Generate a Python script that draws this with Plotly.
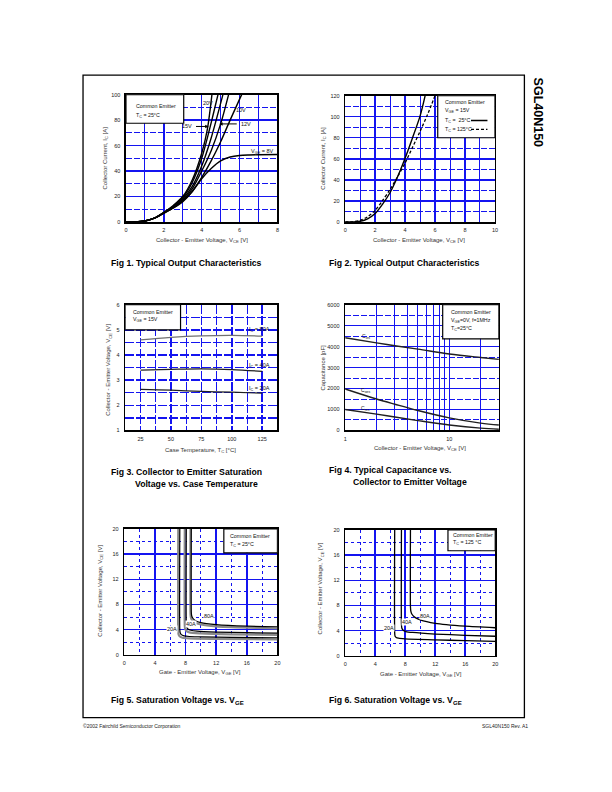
import math
import plotly.graph_objects as go

W, H = 612, 792
BLUE = "#1414f0"
FONT = "Liberation Sans, Arial, sans-serif"
BOLD = "Liberation Sans Narrow, Arial Narrow, Liberation Sans, Arial, sans-serif"

# ---------------- Fig 1 data ----------------
f1_vge_labels = ["20V", "15V", "", "12V", "10V", "8V"]
f1_x = [
    [0, 0.5, 1, 1.5, 2, 2.5, 3, 3.5, 4, 4.3, 4.54],
    [0, 0.5, 1, 1.5, 2, 2.5, 3, 3.5, 4, 4.4, 4.6, 4.86],
    [0, 0.5, 1, 1.5, 2, 2.5, 3, 3.5, 4, 4.5, 5.12],
    [0, 0.5, 1, 1.5, 2, 2.5, 3, 3.5, 4, 4.5, 5, 5.42],
    [0, 0.5, 1, 1.5, 2, 2.5, 3, 3.5, 4, 4.5, 5, 5.5, 6.11],
    [0, 0.5, 1, 1.5, 2, 2.5, 3, 3.5, 4, 4.5, 5, 5.5, 6, 6.5, 7, 8],
]
f1_y = [
    [0, 0, 0.8, 3, 7.5, 13, 20, 33, 54, 73, 100],
    [0, 0, 0.8, 3, 7.5, 12.5, 19, 31, 50, 72, 84, 100],
    [0, 0, 0.8, 3, 7.5, 12, 18, 28, 44, 66, 100],
    [0, 0, 0.8, 3, 7.2, 11.5, 17, 26, 40, 56, 77, 100],
    [0, 0, 0.8, 3, 7, 11, 16, 24, 35, 48, 63, 80, 100],
    [0, 0, 0.8, 3, 6.8, 11, 16.5, 24, 34, 42, 48, 51, 52.2, 52.6, 52.8, 53],
]

# ---------------- Fig 2 data ----------------
f2_x25 = [0, 0.5, 1, 1.5, 2, 2.5, 3, 3.5, 4, 4.5, 5, 5.34]
f2_y25 = [0, 0, 0.7, 3, 8, 17, 28, 43, 60.5, 80, 100.5, 120]
f2_x125 = [0, 0.5, 1, 1.5, 2, 2.5, 3, 3.5, 4, 4.5, 5, 5.5, 6.0]
f2_y125 = [0, 0.2, 1.5, 5, 11, 20.5, 31, 43, 56, 71, 86, 102, 120]

# ---------------- Fig 3 data ----------------
f3_tc = [25, 50, 75, 100, 125]
f3_80a = [4.6, 4.7, 4.76, 4.78, 4.75]
f3_40a = [3.4, 3.43, 3.45, 3.42, 3.35]
f3_20a = [2.63, 2.6, 2.55, 2.52, 2.48]

# ---------------- Fig 4 data ----------------
f4_v = [1, 2, 3, 5, 10, 20, 30]
f4_cies = [4420, 4180, 4040, 3880, 3650, 3480, 3390]
f4_coes = [1980, 1500, 1250, 950, 600, 350, 260]
f4_cres = [1000, 780, 640, 470, 260, 110, 60]

# ---------------- Fig 5 data (Tc = 25C) ----------------
f5_80a_x = [8.75, 8.75, 8.8, 8.95, 9.3, 10, 12, 16, 20]
f5_80a_y = [20, 6.8, 6.2, 5.8, 5.4, 5.1, 4.8, 4.55, 4.45]
f5_80g_x = [8.65, 8.65, 8.7, 8.85, 9.2, 10, 12, 16, 20]
f5_80g_y = [20, 6.5, 5.9, 5.5, 5.1, 4.8, 4.5, 4.3, 4.2]
f5_40a_x = [8.1, 8.1, 8.15, 8.3, 8.7, 9.5, 12, 16, 20]
f5_40a_y = [20, 4.9, 4.4, 4.1, 3.9, 3.75, 3.6, 3.5, 3.45]
f5_40g_x = [7.9, 7.9, 7.95, 8.1, 8.5, 10, 14, 20]
f5_40g_y = [20, 4.6, 4.1, 3.8, 3.55, 3.4, 3.25, 3.15]
f5_20a_x = [7.25, 7.25, 7.3, 7.45, 7.8, 8.5, 10, 14, 20]
f5_20a_y = [20, 4.0, 3.5, 3.2, 3.0, 2.9, 2.85, 2.75, 2.7]
f5_20g_x = [7.05, 7.05, 7.1, 7.25, 7.6, 8.5, 12, 20]
f5_20g_y = [20, 3.7, 3.2, 2.9, 2.7, 2.6, 2.52, 2.45]

# ---------------- Fig 6 data (Tc = 125C) ----------------
f6_80a_x = [8.7, 8.7, 8.75, 8.9, 9.3, 10, 12, 16, 20]
f6_80a_y = [20, 7.8, 7.1, 6.6, 6.1, 5.7, 5.15, 4.7, 4.45]
f6_40a_x = [7.5, 7.5, 7.55, 7.7, 8.1, 9, 12, 16, 20]
f6_40a_y = [20, 5.0, 4.4, 4.1, 3.85, 3.7, 3.45, 3.25, 3.1]
f6_20a_x = [6.6, 6.6, 6.65, 6.8, 7.1, 8, 12, 16, 20]
f6_20a_y = [20, 3.6, 3.1, 2.9, 2.78, 2.68, 2.52, 2.4, 2.28]


def pxx(x):
    return x / W


def pxy(y):
    return 1 - y / H


fig = go.Figure()

# ----- traces -----
for xs, ys in zip(f1_x, f1_y):
    fig.add_trace(go.Scatter(x=xs, y=ys, mode="lines", line=dict(color="black", width=1.4, shape="spline", smoothing=0.8),
                             xaxis="x", yaxis="y", showlegend=False, hoverinfo="skip"))

fig.add_trace(go.Scatter(x=f2_x25, y=f2_y25, mode="lines", line=dict(color="black", width=1.4, shape="spline", smoothing=0.8),
                         xaxis="x2", yaxis="y2", showlegend=False))
fig.add_trace(go.Scatter(x=f2_x125, y=f2_y125, mode="lines", line=dict(color="black", width=1.3, dash="3px,2px", shape="spline", smoothing=0.8),
                         xaxis="x2", yaxis="y2", showlegend=False))

for ys, col in [(f3_80a, "#707070"), (f3_40a, "#202020"), (f3_20a, "#202020")]:
    fig.add_trace(go.Scatter(x=f3_tc, y=ys, mode="lines", line=dict(color=col, width=1.2, shape="spline"),
                             xaxis="x3", yaxis="y3", showlegend=False))

for ys in [f4_cies, f4_coes, f4_cres]:
    fig.add_trace(go.Scatter(x=f4_v, y=ys, mode="lines", line=dict(color="#202020", width=1.4, shape="spline"),
                             xaxis="x4", yaxis="y4", showlegend=False))

for xs, ys in [(f5_80g_x, f5_80g_y), (f5_40g_x, f5_40g_y), (f5_20g_x, f5_20g_y)]:
    fig.add_trace(go.Scatter(x=xs, y=ys, mode="lines", line=dict(color="#8a8a8a", width=2.2, shape="spline", smoothing=0.6),
                             xaxis="x5", yaxis="y5", showlegend=False))
for xs, ys in [(f5_80a_x, f5_80a_y), (f5_40a_x, f5_40a_y), (f5_20a_x, f5_20a_y)]:
    fig.add_trace(go.Scatter(x=xs, y=ys, mode="lines", line=dict(color="black", width=1.2, shape="spline", smoothing=0.6),
                             xaxis="x5", yaxis="y5", showlegend=False))

for xs, ys in [(f6_80a_x, f6_80a_y), (f6_40a_x, f6_40a_y), (f6_20a_x, f6_20a_y)]:
    fig.add_trace(go.Scatter(x=xs, y=ys, mode="lines", line=dict(color="black", width=1.3, shape="spline", smoothing=0.6),
                             xaxis="x6", yaxis="y6", showlegend=False))

TICKF = dict(family=FONT, size=5.5, color="#222")


def axis(dom, rng, dtick=None, tick0=None, minor_dtick=None, major_dash="solid", minor_dash="6px,2px",
         major_w=1.5, minor_w=1.0, **kw):
    d = dict(domain=dom, range=rng, showgrid=True, gridcolor=BLUE, gridwidth=major_w, griddash=major_dash,
             showline=True, mirror=True, linecolor="black", linewidth=1.5, ticks="", zeroline=False,
             tickfont=TICKF, fixedrange=True, layer="below traces")
    if dtick is not None:
        d["dtick"] = dtick
    if tick0 is not None:
        d["tick0"] = tick0
    if minor_dtick is not None:
        d["minor"] = dict(dtick=minor_dtick, tick0=tick0 if tick0 is not None else 0, showgrid=True, gridcolor=BLUE,
                          gridwidth=minor_w, griddash=minor_dash, ticks="")
    d.update(kw)
    return d


L1 = [pxx(125), pxx(277.7)]
R1 = [pxx(346), pxx(497)]

fig.update_layout(
    width=W, height=H, margin=dict(l=0, r=0, t=0, b=0), paper_bgcolor="white", plot_bgcolor="white",
    showlegend=False,
    xaxis=axis(L1, [0, 8], 2, 0, 1, minor_dash="solid", anchor="y", ticklabelstandoff=2),
    yaxis=axis([pxy(220.7), pxy(92.3)], [0, 100], 20, 0, 10, anchor="x", ticklabelstandoff=3),
    xaxis2=axis(R1, [0, 10], 2, 0, 1, minor_dash="solid", anchor="y2", ticklabelstandoff=2),
    yaxis2=axis([pxy(220.7), pxy(93.3)], [0, 120], 20, 0, 10, anchor="x2", ticklabelstandoff=3),
    xaxis3=axis([pxx(124.3), pxx(277.7)], [12.5, 137.5], 25, 25, 12.5, major_dash="9px,2px", minor_dash="9px,2px",
                anchor="y3", ticklabelstandoff=2),
    yaxis3=axis([pxy(430.7), pxy(304)], [1, 6], 1, 1, 0.5, major_dash="9px,2px", minor_dash="9px,2px", minor_w=1.5,
                anchor="x3", ticklabelstandoff=3),
    xaxis4=dict(domain=[pxx(346), pxx(501)], type="log", range=[0, math.log10(30)],
                tickvals=[1, 2, 3, 4, 5, 6, 7, 8, 9, 10, 20, 30],
                ticktext=["1", "", "", "", "", "", "", "", "", "10", "", ""],
                showgrid=True, gridcolor=BLUE, gridwidth=1.0, showline=True, mirror=True, linecolor="black",
                linewidth=1.5, ticks="", zeroline=False, tickfont=TICKF,
                anchor="y4", fixedrange=True, ticklabelstandoff=2),
    yaxis4=axis([pxy(430.7), pxy(304)], [0, 6000], 1000, 0, 500, anchor="x4", ticklabelstandoff=3),
    xaxis5=axis([pxx(123.3), pxx(277.7)], [0, 20], 4, 0, 2, minor_dash="dot", anchor="y5", ticklabelstandoff=2),
    yaxis5=axis([pxy(656.7), pxy(530)], [0, 20], 4, 0, 2, minor_dash="dot", anchor="x5", ticklabelstandoff=3),
    xaxis6=axis([pxx(346), pxx(497.3)], [0, 20], 4, 0, 2, minor_dash="dot", anchor="y6", ticklabelstandoff=2),
    yaxis6=axis([pxy(657.7), pxy(531)], [0, 20], 4, 0, 2, minor_dash="dot", anchor="x6", ticklabelstandoff=3),
)

shapes = []
# page frame
shapes.append(dict(type="rect", xref="paper", yref="paper", x0=pxx(81.7), x1=pxx(526.7), y0=pxy(720), y1=pxy(72.7),
                   line=dict(color="black", width=1.3), fillcolor="rgba(0,0,0,0)", layer="above"))


def box(xr, yr, x0, x1, y0, y1):
    shapes.append(dict(type="rect", xref=xr, yref=yr, x0=x0, x1=x1, y0=y0, y1=y1,
                       line=dict(color="black", width=1.2), fillcolor="white", layer="above"))


box("x", "y", 0, 3.05, 77.5, 100)
box("x2", "y2", 6.18, 10, 80, 120)
# legend sample lines for Fig 2 (drawn above the box)
shapes.append(dict(type="line", xref="x2", yref="y2", x0=8.4, x1=9.5, y0=96.4, y1=96.4,
                   line=dict(color="black", width=1.4), layer="above"))
shapes.append(dict(type="line", xref="x2", yref="y2", x0=8.4, x1=9.5, y0=88, y1=88,
                   line=dict(color="black", width=1.2, dash="3px,2px"), layer="above"))
box("x3", "y3", 12.5, 57.9, 5.0, 6)
frac_a = math.log10(8.65) / math.log10(30)
box("x4 domain", "y4", frac_a, 1, 4374, 6000)
box("x5", "y5", 13.0, 20, 16.2, 20)
box("x6", "y6", 13.7, 20, 16.7, 20)
fig.update_layout(shapes=shapes)

ann = []
LEG = 5.3


def txt(x, y, s, xr="x", yr="y", size=LEG, xanchor="left", color="#111", **kw):
    d = dict(x=x, y=y, xref=xr, yref=yr, text=s, showarrow=False, xanchor=xanchor, yanchor="middle",
             font=dict(family=FONT, size=size, color=color))
    d.update(kw)
    ann.append(d)


def ptxt(x, y, s, size=6, xanchor="center", angle=0, color="#333", family=FONT):
    ann.append(dict(x=pxx(x), y=pxy(y), xref="paper", yref="paper", text=s, showarrow=False, xanchor=xanchor,
                    yanchor="middle", textangle=angle, font=dict(family=family, size=size, color=color)))


# axis titles
ptxt(201.5, 239, "Collector - Emitter Voltage, V<sub>CE</sub> [V]")
ptxt(104, 156.5, "Collector Current, I<sub>C</sub> [A]", angle=-90)
ptxt(420, 239.5, "Collector - Emitter Voltage, V<sub>CE</sub> [V]")
ptxt(324, 156.5, "Collector Current, I<sub>C</sub> [A]", angle=-90)
ptxt(200, 450.5, "Case Temperature, T<sub>C</sub> [°C]")
ptxt(107.5, 370, "Collector - Emitter Voltage, V<sub>CE</sub> [V]", angle=-90)
ptxt(421, 449, "Collector - Emitter Voltage, V<sub>CE</sub> [V]")
ptxt(324, 367, "Capacitance [pF]", angle=-90)
ptxt(200, 675, "Gate - Emitter Voltage, V<sub>GE</sub> [V]")
ptxt(99, 592, "Collector - Emitter Voltage, V<sub>CE</sub> [V]", angle=-90)
ptxt(422, 676.5, "Gate - Emitter Voltage, V<sub>GE</sub> [V]")
ptxt(321.5, 590, "Collector - Emitter Voltage, V<sub>CE</sub> [V]", angle=-90)

# figure titles
TS = 8.7
ptxt(108, 262, "<b>Fig 1. Typical Output Characteristics</b>", size=TS, xanchor="left", color="black", family=BOLD)
ptxt(328, 262, "<b>Fig 2. Typical Output Characteristics</b>", size=TS, xanchor="left", color="black", family=BOLD)
ptxt(108, 473, "<b>Fig 3. Collector to Emitter Saturation</b>", size=TS, xanchor="left", color="black", family=BOLD)
ptxt(132, 485, "<b>Voltage vs. Case Temperature</b>", size=TS, xanchor="left", color="black", family=BOLD)
ptxt(328, 471, "<b>Fig 4. Typical Capacitance vs.</b>", size=TS, xanchor="left", color="black", family=BOLD)
ptxt(352, 483, "<b>Collector to Emitter Voltage</b>", size=TS, xanchor="left", color="black", family=BOLD)
ptxt(108, 703, "<b>Fig 5. Saturation Voltage vs. V<sub>GE</sub></b>", size=TS, xanchor="left", color="black", family=BOLD)
ptxt(328, 703, "<b>Fig 6. Saturation Voltage vs. V<sub>GE</sub></b>", size=TS, xanchor="left", color="black", family=BOLD)

# header / footer
ptxt(540, 110, "<b>SGL40N150</b>", size=12.5, angle=90, color="black")
ptxt(80, 729, "©2002 Fairchild Semiconductor Corporation", size=5, xanchor="left", color="#222")
ptxt(532, 729, "SGL40N150 Rev. A1", size=5, xanchor="right", color="#222")

# Fig 1 labels
txt(0.4, 91, "Common Emitter")
txt(0.4, 83.6, "T<sub>C</sub> = 25°C")
txt(4.35, 93.5, "20V", xanchor="center", size=5.5)
txt(3.6, 75.3, "15V", xanchor="right", size=5.5)
txt(5.95, 77, "12V", xanchor="left", size=5.5)
txt(6.1, 88.3, "10V", xanchor="center", size=5.5)
txt(6.5, 55.5, "V<sub>GE</sub> = 8V", xanchor="left", size=5.5)
ann.append(dict(x=4.37, y=75, ax=3.62, ay=75, xref="x", yref="y", axref="x", ayref="y", text="", showarrow=True,
                arrowhead=2, arrowsize=0.7, arrowwidth=1, arrowcolor="black"))
ann.append(dict(x=4.92, y=77, ax=5.93, ay=77, xref="x", yref="y", axref="x", ayref="y", text="", showarrow=True,
                arrowhead=2, arrowsize=0.7, arrowwidth=1, arrowcolor="black"))

# Fig 2 labels
txt(6.5, 113.5, "Common Emitter", xr="x2", yr="y2")
txt(6.5, 106, "V<sub>GE</sub> = 15V", xr="x2", yr="y2")
txt(6.5, 96.4, "T<sub>C</sub> =  25°C", xr="x2", yr="y2")
txt(6.5, 88, "T<sub>C</sub> = 125°C", xr="x2", yr="y2")

# Fig 3 labels
txt(17, 5.7, "Common Emitter", xr="x3", yr="y3")
txt(17, 5.41, "V<sub>GE</sub> = 15V", xr="x3", yr="y3")
txt(122.5, 5.02, "I<sub>C</sub> = 80A", xr="x3", yr="y3", xanchor="center", size=5.5)
txt(122.5, 3.58, "I<sub>C</sub> = 40A", xr="x3", yr="y3", xanchor="center", size=5.5)
txt(122.5, 2.68, "I<sub>C</sub> = 20A", xr="x3", yr="y3", xanchor="center", size=5.5)

# Fig 4 labels
txt(1.0, 5668, "Common Emitter", xr="x4", yr="y4")
txt(1.0, 5242, "V<sub>GE</sub>=0V, f=1MHz", xr="x4", yr="y4")
txt(1.0, 4847, "T<sub>C</sub>=25°C", xr="x4", yr="y4")
txt(math.log10(1.57), 4480, "C<sub>ies</sub>", xr="x4", yr="y4", xanchor="center", size=5)
txt(math.log10(1.57), 1920, "C<sub>oes</sub>", xr="x4", yr="y4", xanchor="center", size=5)
txt(math.log10(1.57), 1040, "C<sub>res</sub>", xr="x4", yr="y4", xanchor="center", size=5)

# Fig 5 labels
txt(13.6, 18.95, "Common Emitter", xr="x5", yr="y5")
txt(13.6, 17.5, "T<sub>C</sub> = 25°C", xr="x5", yr="y5")
txt(11.0, 6.2, "80A", xr="x5", yr="y5", xanchor="center", size=5.5, bgcolor="white", borderpad=0)
txt(8.65, 4.85, "40A", xr="x5", yr="y5", xanchor="center", size=5.5, bgcolor="white", borderpad=0)
txt(6.25, 4.05, "20A", xr="x5", yr="y5", xanchor="center", size=5.5, bgcolor="white", borderpad=0)

# Fig 6 labels
txt(14.1, 19.2, "Common Emitter", xr="x6", yr="y6")
txt(14.1, 17.95, "T<sub>C</sub> = 125 °C", xr="x6", yr="y6")
txt(10.7, 6.3, "80A", xr="x6", yr="y6", xanchor="center", size=5.5, bgcolor="white", borderpad=0)
txt(8.2, 5.3, "40A", xr="x6", yr="y6", xanchor="center", size=5.5, bgcolor="white", borderpad=0)
txt(5.9, 4.4, "20A", xr="x6", yr="y6", xanchor="center", size=5.5, bgcolor="white", borderpad=0)

fig.update_layout(annotations=ann)
fig.write_html("out.html", config={"displayModeBar": False, "staticPlot": True},
               post_script="document.body.style.margin='0';document.body.style.padding='0';"
                           "document.documentElement.style.overflow='hidden';")
